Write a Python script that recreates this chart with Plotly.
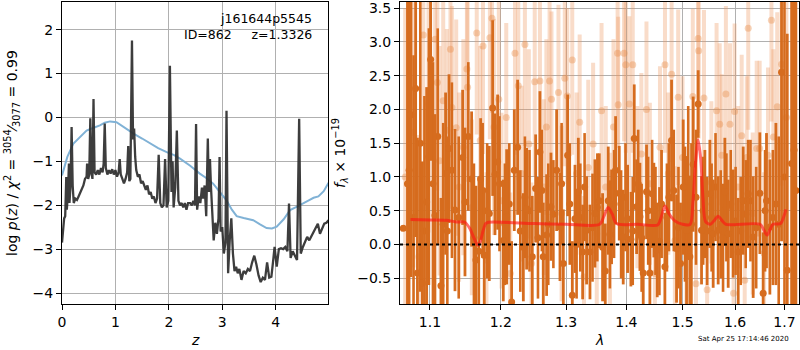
import plotly.graph_objects as go

# ---------------- left panel: redshift PDF ----------------
z_pdf = [0.00, 0.02, 0.04, 0.06, 0.07, 0.08, 0.09, 0.11, 0.13, 0.14, 0.16, 0.18, 0.20, 0.22, 0.25,
         0.28, 0.31, 0.34, 0.37, 0.40, 0.43, 0.46, 0.47, 0.49, 0.51, 0.53, 0.55, 0.57, 0.59, 0.61,
         0.64, 0.67, 0.70, 0.73, 0.76, 0.78, 0.80, 0.82, 0.85, 0.88, 0.91, 0.94, 0.97, 1.00, 1.03,
         1.06, 1.08, 1.10, 1.13, 1.16, 1.19, 1.22, 1.24, 1.26, 1.28, 1.31, 1.33, 1.35, 1.37, 1.39,
         1.42, 1.45, 1.48, 1.51, 1.54, 1.57, 1.60, 1.63, 1.66, 1.69, 1.72, 1.75, 1.78, 1.81, 1.84,
         1.87, 1.90, 1.93, 1.96, 1.99, 2.02, 2.05, 2.07, 2.09, 2.12, 2.15, 2.18, 2.21, 2.24, 2.27,
         2.30, 2.33, 2.36, 2.40, 2.43, 2.46, 2.49, 2.51, 2.53, 2.56, 2.59, 2.62, 2.64, 2.67, 2.70,
         2.73, 2.75, 2.77, 2.79, 2.81, 2.84, 2.87, 2.90, 2.93, 2.95, 2.97, 3.00, 3.03, 3.06, 3.08,
         3.11, 3.14, 3.17, 3.20, 3.23, 3.26, 3.29, 3.32, 3.36, 3.40, 3.44, 3.48, 3.52, 3.56, 3.60,
         3.64, 3.68, 3.72, 3.76, 3.80, 3.84, 3.88, 3.92, 3.95, 3.98, 4.02, 4.06, 4.10, 4.14, 4.18,
         4.22, 4.25, 4.28, 4.32, 4.36, 4.40, 4.44, 4.47, 4.51, 4.55, 4.59, 4.63, 4.67, 4.71, 4.75,
         4.79, 4.83, 4.87, 4.91, 4.95, 4.99]
logp = [-2.85, -2.55, -2.30, -2.25, -1.90, -1.36, -2.10, -1.75, -1.05, -1.95, -1.55, -0.22, -1.55, -1.95, -1.85,
        -1.88, -1.80, -1.72, -1.65, -1.55, -1.40, -1.35, -1.05, -1.40, -1.30, -0.02, -1.25, -1.40, 0.42, -1.25,
        -1.30, -1.20, -1.30, -1.15, -1.25, -1.05, -0.14, -1.15, -1.30, -1.20, -1.28, -1.18, -1.30, -1.20, -1.35,
        -1.25, -0.95, -1.30, -1.40, -1.50, -1.40, -1.25, -0.65, -1.45, -1.40, 1.75, -0.50, -0.25, -0.90, -1.20,
        -1.35, -1.30, -1.50, -1.45, -1.55, -1.65, -1.55, -1.75, -1.70, -1.85, -1.80, -1.95, -1.85, -0.85, -1.95,
        -2.05, -2.00, -0.95, -2.05, -1.90, 1.18, -1.70, -1.00, -2.05, -1.60, -0.30, -1.90, -2.00, -1.95, -2.05,
        -1.95, -2.10, -1.95, -1.95, -2.00, -1.90, -2.00, -0.15, -2.10, -1.80, -1.95, -1.60, -1.85, -1.55, -2.25,
        -0.48, -1.70, -0.95, -1.60, -2.20, -2.80, -2.40, -2.65, -2.30, -0.90, -2.60, -2.50, -3.10, -2.85, 0.15,
        -3.55, -2.80, -2.30, -3.10, -3.50, -3.40, -3.55, -3.45, -3.70, -3.50, -3.55, -3.45, -3.50, -3.30, -3.15,
        -3.35, -3.60, -3.75, -3.65, -3.70, -3.30, -3.65, -3.63, -3.30, -2.95, -3.40, -3.00, -2.98, -3.00, -2.95,
        -3.05, -1.96, -3.20, -3.05, -3.15, -3.25, -0.03, -3.10, -2.95, -2.85, -2.72, -2.80, -2.70, -2.60, -2.50,
        -2.42, -2.65, -2.55, -2.42, -2.40, -2.34]

z_prior = [0.00, 0.10, 0.21, 0.33, 0.46, 0.58, 0.71, 0.80, 0.90, 1.02, 1.15, 1.34, 1.50, 1.65, 1.80,
           1.96, 2.10, 2.21, 2.40, 2.58, 2.70, 2.83, 2.95, 3.08, 3.18, 3.27, 3.40, 3.58, 3.70, 3.83,
           3.93, 4.02, 4.15, 4.27, 4.40, 4.52, 4.62, 4.71, 4.80, 4.90, 4.99]
prior = [-1.32, -0.90, -0.60, -0.45, -0.30, -0.24, -0.18, -0.12, -0.09, -0.11, -0.22, -0.37, -0.48, -0.60, -0.70,
         -0.79, -0.86, -0.94, -1.10, -1.28, -1.38, -1.51, -1.68, -1.89, -2.10, -2.25, -2.29, -2.34, -2.43, -2.52,
         -2.53, -2.49, -2.32, -2.11, -2.03, -1.96, -1.89, -1.83, -1.80, -1.68, -1.49]

# ---------------- right panel: spectrum ----------------
wave_dark = [1.0645, 1.0700, 1.0746, 1.0808, 1.0832, 1.0897, 1.0955, 1.1009, 1.1067, 1.1149,
             1.1213, 1.1260, 1.1343, 1.1450, 1.1483, 1.1577, 1.1639, 1.1706, 1.1758, 1.1831,
             1.1880, 1.1914, 1.1953, 1.2036, 1.2086, 1.2160, 1.2200, 1.2250, 1.2336, 1.2386,
             1.2472, 1.2524, 1.2590, 1.2642, 1.2694, 1.2762, 1.2851, 1.2904, 1.2957, 1.3026,
             1.3101, 1.3144, 1.3198, 1.3268, 1.3333, 1.3388, 1.3470, 1.3542, 1.3597, 1.3642,
             1.3692, 1.3748, 1.3816, 1.3878, 1.3946, 1.4021, 1.4078, 1.4136, 1.4177, 1.4235,
             1.4293, 1.4351, 1.4410, 1.4481, 1.4541, 1.4618, 1.4678, 1.4750, 1.4799, 1.4890,
             1.4963, 1.5012, 1.5074, 1.5135, 1.5197, 1.5291, 1.5354, 1.5417, 1.5512, 1.5575,
             1.5671, 1.5800, 1.5865, 1.5962, 1.6061, 1.6160, 1.6259, 1.6359, 1.6494, 1.6561,
             1.6629, 1.6698, 1.6822, 1.6939, 1.7058, 1.7150, 1.7240]
flux_dark = [0.24, 0.90, 1.92, 2.31, -0.42, -0.57, 0.63, 2.74, 0.43, -0.61,
             1.05, 1.42, 0.51, 1.29, 0.63, 0.97, -0.23, 0.97, -0.16, 0.46,
             2.02, 1.04, 1.22, 0.06, 0.41, -0.85, 1.10, 1.44, -0.04, 0.53,
             -0.18, 0.83, 1.37, -0.18, 0.14, 0.56, 1.10, 0.26, -0.28, 1.32,
             -0.75, 0.38, 0.78, -0.11, 0.21, -0.11, 0.46, 0.65, -0.04, -0.39,
             0.65, 0.41, 1.10, 0.76, 0.11, 0.38, 0.08, 1.57, 0.56, 0.41,
             -0.42, 0.78, -0.42, 0.51, -0.08, 0.60, -0.33, 0.70, 1.54, -0.06,
             -0.28, 0.85, 0.21, -0.18, 1.19, 2.08, 0.21, 0.60, 0.75, 0.16,
             0.21, 0.78, 0.16, 0.31, -0.11, 0.65, 0.75, 0.11, 0.76, -0.72,
             0.65, 0.26, 0.60, 2.55, -0.38, 1.20, 0.80]
err_dark = [0.0, 2.7, 2.4, 2.2, 2.0, 1.8, 1.7, 1.5, 1.5, 1.3,
            1.2, 1.1, 1.2, 1.0, 1.1, 1.0, 1.1, 0.9, 1.0, 1.0,
            1.3, 0.9, 1.0, 0.9, 1.0, 0.9, 0.9, 1.0, 0.8, 0.9,
            0.9, 0.8, 0.9, 0.8, 0.9, 0.8, 0.9, 0.8, 0.8, 0.9,
            0.8, 0.8, 0.8, 0.7, 0.8, 0.7, 0.8, 0.7, 0.8, 0.7,
            0.8, 0.7, 0.8, 0.7, 0.7, 0.8, 0.7, 0.8, 0.7, 0.8,
            0.7, 0.7, 0.8, 0.7, 0.7, 0.8, 0.8, 0.8, 0.9, 0.8,
            0.9, 1.0, 1.1, 1.2, 1.0, 0.5, 0.8, 0.8, 0.8, 0.8,
            0.8, 0.8, 0.8, 0.8, 0.8, 0.8, 0.8, 0.9, 0.9, 0.9,
            1.0, 1.0, 1.2, 2.5, 3.5, 4.0, 4.0]

# second group of binned points (mostly hidden dots, long bars), read between the ones above
wave_dark2 = [1.0722, 1.0780, 1.0870, 1.0925, 1.0985, 1.1040, 1.1105, 1.1180, 1.1237, 1.1300,
              1.1395, 1.1530, 1.1610, 1.1680, 1.1735, 1.1800, 1.1980, 1.2060, 1.2125, 1.2290,
              1.2360, 1.2430, 1.2560, 1.2620, 1.2720, 1.2800, 1.2930, 1.3060, 1.3170, 1.3230,
              1.3300, 1.3430, 1.3510, 1.3720, 1.3790, 1.3910, 1.3985, 1.4110, 1.4205, 1.4265,
              1.4380, 1.4450, 1.4510, 1.4580, 1.4715, 1.4840, 1.4925, 1.5045, 1.5105, 1.5165,
              1.5250, 1.5385, 1.5460, 1.5545, 1.5620, 1.5720, 1.5765, 1.5830, 1.5915, 1.6010,
              1.6110, 1.6210, 1.6305, 1.6420, 1.6600, 1.6760, 1.6880, 1.7000, 1.7200]
flux_dark2 = [1.10, 0.40, 1.50, 0.20, 1.30, 0.90, 1.60, 0.30, 0.20, 1.10,
              0.40, 1.60, 0.10, -0.10, 0.80, 0.50, 0.90, 0.30, 0.60, 0.20,
              0.70, 0.50, 0.10, 0.80, 0.30, 0.45, 0.90, 0.60, 0.00, 0.40,
              0.85, 0.25, 0.55, 0.15, 0.60, 0.30, 0.70, 0.20, 0.90, 0.10,
              0.50, 0.75, 0.35, 0.05, 0.40, 0.80, 0.25, 0.45, 0.95, 0.30,
              0.70, 0.50, 0.20, 0.40, 0.85, 0.30, 0.10, 0.55, 0.60, 0.35,
              0.20, 0.45, 0.65, 0.25, 0.50, 0.40, 0.30, 1.00, 1.40]
err_dark2 = [2.6, 2.4, 2.2, 2.0, 1.9, 1.8, 1.6, 1.5, 1.4, 1.3,
             1.2, 1.1, 1.1, 1.1, 1.0, 1.0, 1.0, 0.9, 0.9, 0.9,
             0.9, 0.9, 0.9, 0.9, 0.9, 0.8, 0.9, 0.9, 0.8, 0.8,
             0.8, 0.8, 0.8, 0.8, 0.8, 0.8, 0.8, 0.8, 0.8, 0.8,
             0.8, 0.8, 0.8, 0.8, 0.8, 0.9, 0.9, 1.0, 1.1, 1.2,
             1.0, 0.8, 0.8, 0.8, 0.8, 0.8, 0.8, 0.8, 0.8, 0.8,
             0.8, 0.8, 0.9, 0.9, 0.9, 1.0, 1.3, 3.0, 4.5]

wave_light = [1.067, 1.078, 1.085, 1.091, 1.098, 1.107, 1.110, 1.113, 1.118, 1.123,
              1.128, 1.130, 1.136, 1.140, 1.146, 1.151, 1.152, 1.158, 1.165, 1.170,
              1.174, 1.179, 1.184, 1.187, 1.190, 1.197, 1.201, 1.208, 1.214, 1.221,
              1.226, 1.231, 1.236, 1.242, 1.246, 1.251, 1.259, 1.265, 1.269, 1.274,
              1.277, 1.288, 1.293, 1.298, 1.302, 1.310, 1.317, 1.322, 1.329, 1.336,
              1.344, 1.350, 1.358, 1.365, 1.372, 1.378, 1.385, 1.386, 1.396, 1.399,
              1.405, 1.411, 1.419, 1.426, 1.435, 1.441, 1.450, 1.459, 1.468, 1.474,
              1.480, 1.486, 1.492, 1.500, 1.507, 1.519, 1.525, 1.529, 1.530, 1.540,
              1.546, 1.554, 1.564, 1.570, 1.574, 1.582, 1.590, 1.597, 1.599, 1.606,
              1.613, 1.619, 1.623, 1.626, 1.635, 1.643, 1.649, 1.658, 1.666, 1.673,
              1.677, 1.685, 1.694, 1.704]
flux_light = [1.00, 1.66, -0.18, 3.10, 2.08, 3.04, 2.40, 1.24, 2.13, 1.69,
              2.89, 2.03, 1.73, 0.85, 1.44, 2.60, 2.33, 0.55, 3.13, 1.54,
              2.94, -0.23, 3.06, 3.35, 1.74, 2.15, 0.65, 1.88, -0.43, 2.83,
              2.35, 1.05, 2.96, 1.49, -0.28, 2.41, 2.42, 0.85, 1.74, 2.42,
              2.15, 2.25, 0.46, 2.46, 2.20, 2.73, 1.05, 1.81, -0.48, 1.14,
              1.49, 0.16, 1.98, 0.85, 0.16, 1.74, 2.83, 2.07, 2.83, 2.66,
              2.08, 2.66, 0.85, 1.34, 2.00, 0.90, -0.43, 1.44, 2.66, 1.05,
              2.52, 0.06, 2.18, 1.29, -0.04, 2.19, -0.58, 3.05, 2.87, 2.17,
              -0.67, 0.92, 1.98, 1.78, 1.32, 2.23, 1.78, -0.72, 1.97, 0.85,
              1.61, -0.53, 1.29, 3.20, 0.46, 1.42, 1.42, -0.13, 1.32, 3.32,
              1.59, 2.04, 2.67, 1.88]
err_light = [2.5, 2.0, 1.8, 1.6, 1.9, 1.5, 1.6, 1.7, 1.8, 1.5,
             1.6, 1.5, 1.6, 1.4, 1.6, 1.5, 1.4, 1.3, 1.5, 1.4,
             1.6, 1.3, 1.5, 1.4, 1.6, 1.5, 1.3, 1.4, 1.2, 1.5,
             1.4, 1.3, 1.5, 1.4, 1.2, 1.4, 1.4, 1.3, 1.3, 1.4,
             1.3, 1.3, 1.3, 1.3, 1.3, 1.4, 1.2, 1.3, 1.2, 1.3,
             1.2, 1.1, 1.3, 1.2, 1.2, 1.3, 1.4, 1.3, 1.3, 1.3,
             1.3, 1.3, 1.2, 1.2, 1.3, 1.2, 1.1, 1.2, 1.3, 1.2,
             1.3, 1.1, 1.3, 1.2, 1.2, 1.3, 1.1, 1.4, 1.3, 1.3,
             1.1, 1.2, 1.3, 1.2, 1.2, 1.3, 1.2, 1.1, 1.3, 1.2,
             1.2, 1.1, 1.2, 1.5, 1.2, 1.3, 1.3, 1.2, 1.3, 1.5,
             1.3, 1.4, 1.8, 2.2]

wave_model = [1.074, 1.100, 1.122, 1.136, 1.148, 1.155, 1.160, 1.164, 1.167, 1.170, 1.174, 1.178, 1.182,
              1.250, 1.300, 1.355, 1.362, 1.369, 1.376, 1.383, 1.420, 1.455, 1.461, 1.468, 1.475, 1.486,
              1.500, 1.514, 1.519, 1.524, 1.529, 1.534, 1.538, 1.543, 1.552, 1.560, 1.567, 1.575, 1.582,
              1.650, 1.657, 1.664, 1.670, 1.676, 1.692, 1.698, 1.703]
flux_model = [0.37, 0.365, 0.36, 0.335, 0.33, 0.24, 0.12, 0.03, -0.01, 0.04, 0.20, 0.31, 0.33,
              0.31, 0.30, 0.30, 0.42, 0.55, 0.45, 0.31, 0.30, 0.29, 0.40, 0.57, 0.46, 0.35,
              0.30, 0.30, 0.60, 1.20, 1.55, 1.25, 0.70, 0.34, 0.30, 0.36, 0.42, 0.35, 0.30,
              0.30, 0.22, 0.14, 0.22, 0.30, 0.31, 0.40, 0.52]

z_ticks = [0, 1, 2, 3, 4]
pz_ticks = [2, 1, 0, -1, -2, -3, -4]
wave_ticks = [1.1, 1.2, 1.3, 1.4, 1.5, 1.6, 1.7]
wave_ticktext = ["1.1", "1.2", "1.3", "1.4", "1.5", "1.6", "1.7"]
flux_ticks = [-0.5, 0.0, 0.5, 1.0, 1.5, 2.0, 2.5, 3.0, 3.5]
flux_ticktext = ["−0.5", "0.0", "0.5", "1.0", "1.5", "2.0", "2.5", "3.0", "3.5"]

FONT = "DejaVu Sans"
DARK = "rgb(214,108,30)"

fig = go.Figure()

fig.add_trace(go.Scatter(x=z_prior, y=prior, mode="lines",
                         line=dict(color="rgb(128,178,214)", width=2), xaxis="x", yaxis="y",
                         showlegend=False, hoverinfo="skip"))
fig.add_trace(go.Scatter(x=z_pdf, y=logp, mode="lines",
                         line=dict(color="rgba(45,45,45,0.92)", width=2.3), xaxis="x", yaxis="y",
                         showlegend=False, hoverinfo="skip"))

fig.add_trace(go.Scatter(x=wave_light, y=flux_light, mode="markers",
                         marker=dict(color="rgba(232,140,70,0.38)", size=7),
                         error_y=dict(type="data", array=err_light, visible=True,
                                      color="rgba(236,150,90,0.33)", thickness=4, width=0),
                         xaxis="x2", yaxis="y2", showlegend=False, hoverinfo="skip"))
fig.add_trace(go.Scatter(x=wave_dark2, y=flux_dark2, mode="markers",
                         marker=dict(color=DARK, size=7),
                         error_y=dict(type="data", array=err_dark2, visible=True,
                                      color=DARK, thickness=2.6, width=0),
                         xaxis="x2", yaxis="y2", showlegend=False, hoverinfo="skip"))
fig.add_trace(go.Scatter(x=wave_dark, y=flux_dark, mode="markers",
                         marker=dict(color=DARK, size=7),
                         error_y=dict(type="data", array=err_dark, visible=True,
                                      color=DARK, thickness=2.8, width=0),
                         xaxis="x2", yaxis="y2", showlegend=False, hoverinfo="skip"))
fig.add_trace(go.Scatter(x=wave_model, y=flux_model, mode="lines",
                         line=dict(color="rgba(255,20,20,0.62)", width=3, shape="spline", smoothing=0.8),
                         xaxis="x2", yaxis="y2", showlegend=False, hoverinfo="skip"))

fig.add_shape(type="line", xref="x2 domain", yref="y2", x0=0, x1=1, y0=0, y1=0,
              line=dict(color="black", width=2, dash="dot"))

axis_common = dict(showline=True, mirror=True, linecolor="black", linewidth=1,
                   ticks="outside", ticklen=5, tickwidth=1, tickcolor="black",
                   showgrid=True, gridcolor="#b0b0b0", gridwidth=0.8, zeroline=False,
                   automargin=False, ticklabeloverflow="allow",
                   tickfont=dict(family=FONT, size=14, color="black"))

fig.update_layout(
    width=800, height=350,
    margin=dict(l=0, r=0, t=0, b=0, autoexpand=False),
    paper_bgcolor="white", plot_bgcolor="white",
    xaxis=dict(domain=[62/800, 328/800], range=[0, 4.98], tickvals=z_ticks, anchor="y", **axis_common),
    yaxis=dict(domain=[46/350, 348/350], range=[-4.25, 2.63], tickvals=pz_ticks, anchor="x", **axis_common),
    xaxis2=dict(domain=[400/800, 799/800], type="log", range=[0.0254, 0.2382],
                tickvals=wave_ticks, ticktext=wave_ticktext, anchor="y2", **axis_common),
    yaxis2=dict(domain=[46/350, 348/350], range=[-0.88, 3.59], tickvals=flux_ticks,
                ticktext=flux_ticktext, anchor="x2", **axis_common),
)

ann = [
    dict(text="j161644p5545", x=314/800, y=(350-19)/350, xanchor="right", yanchor="middle",
         font=dict(family=FONT, size=12.5, color="black")),
    dict(text="ID=862     z=1.3326", x=314/800, y=(350-35)/350, xanchor="right", yanchor="middle",
         font=dict(family=FONT, size=12.5, color="black")),
    dict(text="log <i>p</i>(<i>z</i>) / <i>χ</i><sup>2</sup> = <sup>3054</sup>⁄<sub>3077</sub> = 0.99",
         x=12/800, y=(350-153)/350, xanchor="center", yanchor="middle", textangle=-90,
         font=dict(family=FONT, size=14, color="black")),
    dict(text="<i>f</i><sub><i>λ</i></sub> × 10<sup>−19</sup>",
         x=340/800, y=(350-153)/350, xanchor="center", yanchor="middle", textangle=-90,
         font=dict(family=FONT, size=14, color="black")),
    dict(text="<i>z</i>", x=195/800, y=(350-340)/350, xanchor="center", yanchor="middle",
         font=dict(family=FONT, size=14, color="black")),
    dict(text="<i>λ</i>", x=599/800, y=(350-340)/350, xanchor="center", yanchor="middle",
         font=dict(family=FONT, size=14, color="black")),
    dict(text="Sat Apr 25 17:14:46 2020", x=743/800, y=(350-339)/350, xanchor="center", yanchor="middle",
         font=dict(family=FONT, size=7, color="black")),
]
for a in ann:
    a.update(xref="paper", yref="paper", showarrow=False)
fig.update_layout(annotations=ann)

fig.write_html("out.html", config={"displayModeBar": False},
               post_script="document.body.style.margin='0';document.body.style.padding='0';"
                           "document.body.style.overflow='hidden';")
